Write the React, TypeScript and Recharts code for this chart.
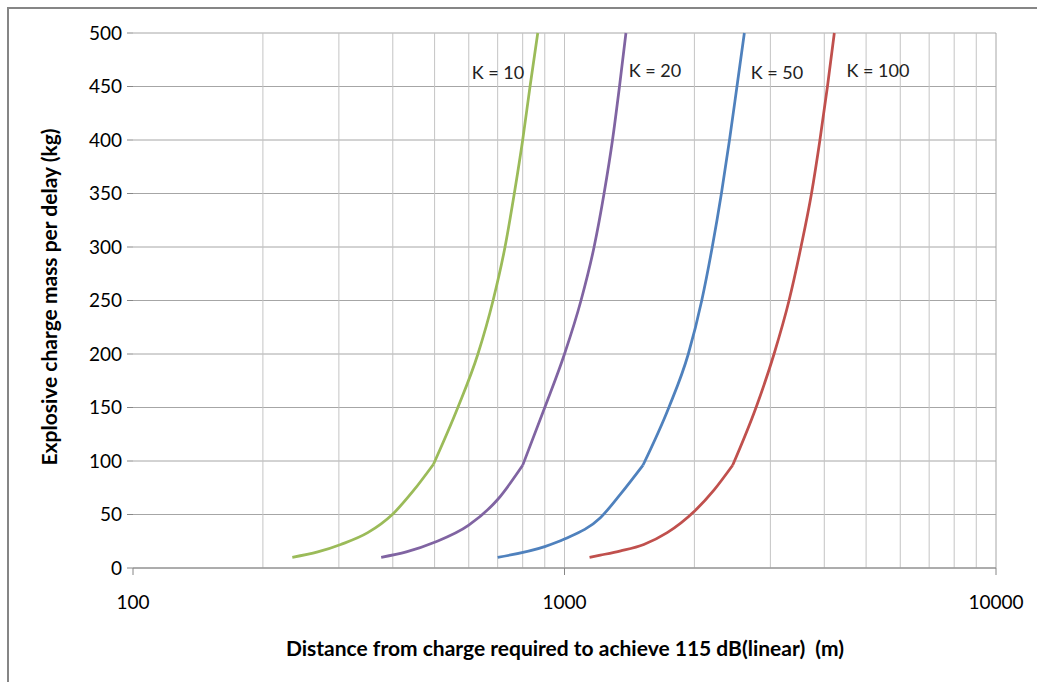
import { LineChart, Line, XAxis, YAxis, CartesianGrid, ReferenceLine, ReferenceDot, Label } from 'recharts'

// Distance (m) vs explosive charge mass per delay (kg), one curve per K value.
// Each curve has a visible kink near 100 kg, so it is drawn as a lower and an
// upper piece that share that point.
const k10Low: [number, number][] = [
  [234, 10], [268, 15], [303, 22], [350, 33], [399, 50], [446, 72], [497, 97],
]
const k10High: [number, number][] = [
  [497, 97], [566, 150], [630, 200], [683, 250], [728, 300], [765, 350],
  [800, 400], [832, 450], [867, 500],
]
const k20Low: [number, number][] = [
  [376, 10], [430, 15], [500, 24], [600, 40], [700, 64], [800, 96],
]
const k20High: [number, number][] = [
  [800, 96], [900, 150], [1000, 200], [1092, 250], [1171, 300], [1235, 350],
  [1292, 400], [1341, 450], [1388, 500],
]
const k50Low: [number, number][] = [
  [700, 10], [900, 20], [1000, 27], [1211, 47], [1348, 69], [1520, 96],
]
const k50High: [number, number][] = [
  [1520, 96], [1745, 150], [1936, 200], [2080, 250], [2200, 300], [2310, 350],
  [2412, 400], [2510, 450], [2611, 500],
]
const k100Low: [number, number][] = [
  [1143, 10], [1211, 12], [1350, 16], [1527, 22], [1730, 33], [2000, 53],
  [2222, 73], [2453, 96],
]
const k100High: [number, number][] = [
  [2453, 96], [2779, 150], [3059, 200], [3314, 250], [3532, 300], [3736, 350],
  [3908, 400], [4068, 450], [4220, 500],
]

const series = [
  { name: 'K = 10', pieces: [k10Low, k10High], color: '#9BBB59', label: [701, 463] },
  { name: 'K = 20', pieces: [k20Low, k20High], color: '#8064A2', label: [1621, 465] },
  { name: 'K = 50', pieces: [k50Low, k50High], color: '#4F81BD', label: [3108, 463] },
  { name: 'K = 100', pieces: [k100Low, k100High], color: '#C0504D', label: [5327, 465] },
]

const xTicks = [100, 1000, 10000]
const xMinor = [200, 300, 400, 500, 600, 700, 800, 900, 1000, 2000, 3000, 4000, 5000, 6000, 7000, 8000, 9000]
const yTicks = [0, 50, 100, 150, 200, 250, 300, 350, 400, 450, 500]

const font = 'Lato, "Open Sans", sans-serif'
const tick = { fill: '#000', fontSize: 19, fontFamily: font }

const yTitle = () => (
  <text x={48} y={297} transform="rotate(-90 48 297)" textAnchor="middle" dominantBaseline="central"
    fill="#000" fontSize={21} fontWeight={700} fontFamily={font}>
    Explosive charge mass per delay (kg)
  </text>
)
const xTitle = () => (
  <text x={565} y={647} textAnchor="middle" dominantBaseline="central"
    fill="#000" fontSize={21} fontWeight={700} fontFamily={font} style={{ whiteSpace: 'pre' }}>
    {'Distance from charge required to achieve 115 dB(linear)  (m)'}
  </text>
)

export default function App() {
  return (
    <div style={{ position: 'absolute', left: 0, top: 0, width: 1037, height: 682, overflow: 'hidden', background: '#fff' }}>
      <div style={{ position: 'absolute', left: 7, top: 7, width: 1100, height: 800, borderLeft: '2px solid #868686', borderTop: '2px solid #868686' }} />
      <LineChart width={1037} height={682} margin={{ top: 33, right: 41, left: 0, bottom: 0 }} style={{ position: 'absolute', left: 0, top: 0 }}>
        <CartesianGrid vertical={false} stroke="#a6a6a6" strokeWidth={1} />
        {xMinor.map(v => (
          <ReferenceLine key={v} x={v} stroke="#c4c4c4" strokeWidth={1} />
        ))}
        <XAxis
          dataKey="d" type="number" scale="log" domain={[100, 10000]} ticks={xTicks}
          allowDataOverflow height={114} tick={tick} tickSize={7} tickMargin={21}
          stroke="#868686"
        >
          <Label content={xTitle} />
        </XAxis>
        <YAxis
          dataKey="m" type="number" domain={[0, 500]} ticks={yTicks} width={133}
          tick={tick} tickSize={6} tickMargin={5} stroke="#868686" axisLine={false}
        >
          <Label content={yTitle} />
        </YAxis>
        <ReferenceLine x={10000} stroke="#a6a6a6" />
        {series.flatMap(s =>
          s.pieces.map((p, i) => (
            <Line
              key={s.name + i} data={p.map(([d, m]) => ({ d, m }))} dataKey="m"
              type="monotone" stroke={s.color} strokeWidth={2.75} dot={false} isAnimationActive={false}
            />
          ))
        )}
        {series.map(s => (
          <ReferenceDot
            key={s.name + 'l'} x={s.label[0]} y={s.label[1]} r={0} fill="none" stroke="none"
            label={{ value: s.name, position: 'center', fill: '#222', fontSize: 18, fontFamily: font }}
          />
        ))}
      </LineChart>
    </div>
  )
}
